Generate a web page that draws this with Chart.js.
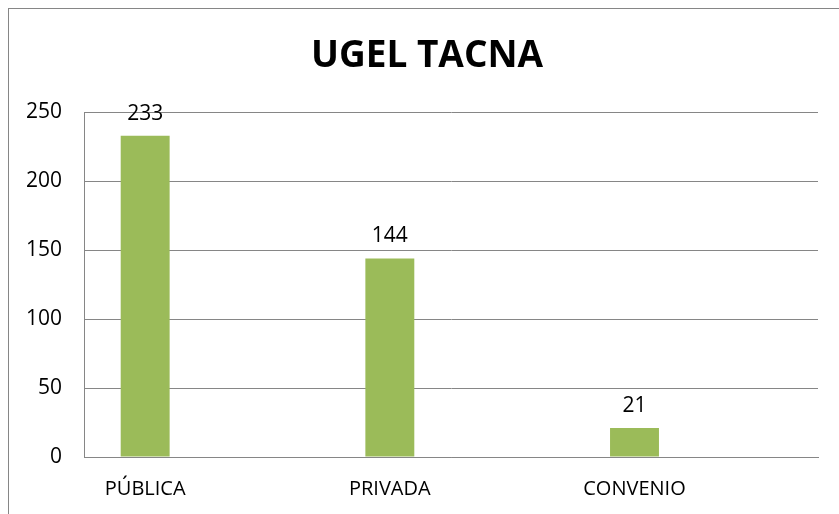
<!DOCTYPE html>
<html>
<head>
<meta charset="utf-8">
<script src="https://cdn.jsdelivr.net/npm/chart.js@4.4.0/dist/chart.umd.min.js"></script>
<style>
	html, body { margin: 0; padding: 0; background: #fff; overflow: hidden; }
	#frame { position: absolute; left: 8px; top: 8px; width: 836px; height: 520px; border: 1px solid #868686; }
	canvas { display: block; }
</style>
</head>
<body>
<div id="frame"><canvas id="canvasChart" width="836" height="520"></canvas></div>
<script>
"use strict";

var categories = ['PÚBLICA', 'PRIVADA', 'CONVENIO'];
var values = [233, 144, 21];
var yTicks = [0, 50, 100, 150, 200, 250];

var barColor = '#9BBB59';
var lineColor = '#868686';
var fontFamily = "'Open Sans', 'Noto Sans', sans-serif";

// value above each bar
var valueLabels = {
	id: 'valueLabels',
	afterDatasetsDraw: function (chart) {
		var ctx = chart.ctx;
		var meta = chart.getDatasetMeta(0);
		ctx.save();
		ctx.font = '21px ' + fontFamily;
		ctx.fillStyle = '#000';
		ctx.textAlign = 'center';
		ctx.textBaseline = 'middle';
		meta.data.forEach(function (bar, i) {
			ctx.fillText(String(values[i]), bar.x, bar.y - 22);
		});
		ctx.restore();
	}
};

var points = [];
for (var i = 0; i < values.length; i++) {
	points.push({ x: i, y: values[i] });
}

const context = document.getElementById('canvasChart');
const myChart = new Chart(context, {
	type: 'bar',
	data: {
		datasets: [{
			label: 'UGEL TACNA',
			data: points,
			backgroundColor: barColor,
			borderWidth: 0,
			barPercentage: 0.2,
			categoryPercentage: 1
		}]
	},
	options: {
		responsive: false,
		animation: false,
		layout: { padding: 0 },
		plugins: {
			legend: { display: false },
			tooltip: { enabled: false },
			title: {
				display: true,
				text: 'UGEL TACNA',
				color: '#000',
				font: { family: fontFamily, size: 37, weight: 'bold' },
				padding: { top: 25, bottom: 34 }
			}
		},
		scales: {
			x: {
				type: 'linear',
				offset: false,
				min: -0.25,
				max: 2.75,
				afterBuildTicks: function (scale) {
					scale.ticks = categories.map(function (c, i) { return { value: i }; });
				},
				afterFit: function (scale) { scale.height = 72; },
				grid: { display: false, drawTicks: false },
				border: { display: true, color: lineColor, width: 1 },
				ticks: {
					padding: 20,
					maxRotation: 0,
					color: '#000',
					font: { family: fontFamily, size: 20 },
					callback: function (value) { return categories[value]; }
				}
			},
			y: {
				min: yTicks[0],
				max: yTicks[yTicks.length - 1],
				afterFit: function (scale) { scale.width = 75; },
				grid: { color: lineColor, lineWidth: 1, drawTicks: false },
				border: { display: true, color: lineColor, width: 1 },
				ticks: {
					stepSize: yTicks[1] - yTicks[0],
					padding: 22,
					color: '#000',
					font: { family: fontFamily, size: 21 }
				}
			},
			// empty space on the right of the plot
			yRight: {
				position: 'right',
				afterFit: function (scale) { scale.width = 27; },
				grid: { display: false, drawTicks: false },
				border: { display: false },
				ticks: { display: false }
			}
		}
	},
	plugins: [valueLabels]
});
</script>
</body>
</html>
